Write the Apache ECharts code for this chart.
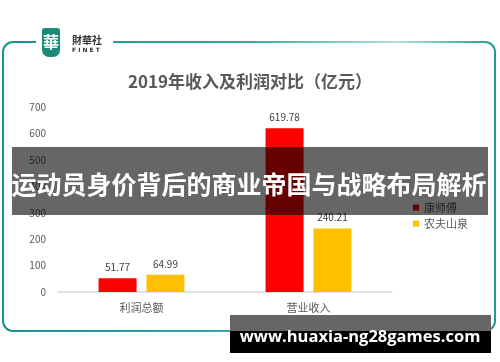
<!DOCTYPE html>
<html>
<head>
<meta charset="utf-8">
<script src="https://cdn.jsdelivr.net/npm/echarts@6/dist/echarts.min.js"></script>
<style>
  html, body { margin: 0; padding: 0; background: #fff; }
  #chart { width: 500px; height: 362px; }
</style>
</head>
<body>
<div id="chart"></div>
<script>
// 数据
const categories = ['利润总额', '营业收入'];
const seriesNames = ['康师傅', '农夫山泉'];
const kangValues = [51.77, 619.78];
const nongfuValues = [64.99, 240.21];
const yTicks = { min: 0, max: 700, interval: 100 };

const font = '"Noto Sans CJK SC", "Noto Sans", sans-serif';

const chart = echarts.init(document.getElementById('chart'));

const option = {
  backgroundColor: '#fff',
  animation: false,
  title: {
    text: '2019年收入及利润对比（亿元）',
    left: 245,
    top: 68,
    textAlign: 'center',
    textStyle: { fontFamily: font, fontSize: 17, fontWeight: 'bold', color: '#595959' }
  },
  legend: {
    data: seriesNames,
    orient: 'vertical',
    left: 408,
    top: 197,
    itemWidth: 6,
    itemHeight: 6,
    itemGap: 5,
    icon: 'rect',
    textStyle: { fontFamily: font, fontSize: 11, color: '#595959' }
  },
  grid: { left: 58, right: 108, top: 107, bottom: 70 },
  xAxis: {
    type: 'category',
    data: categories,
    axisLine: { lineStyle: { color: '#d9d9d9', width: 1.5 } },
    axisTick: { show: false },
    axisLabel: { fontFamily: font, fontSize: 11, color: '#595959', margin: 10 }
  },
  yAxis: {
    type: 'value',
    min: yTicks.min,
    max: yTicks.max,
    interval: yTicks.interval,
    splitLine: { show: false },
    axisLine: { show: false },
    axisTick: { show: false },
    axisLabel: { fontFamily: font, fontSize: 10, color: '#595959', margin: 12 }
  },
  series: [
    {
      name: seriesNames[0],
      type: 'bar',
      data: kangValues,
      barWidth: 38,
      barGap: '26%',
      itemStyle: { color: '#ff0000' },
      label: { show: true, position: 'top', distance: 6, fontFamily: font, fontSize: 10, color: '#404040' }
    },
    {
      name: seriesNames[1],
      type: 'bar',
      data: nongfuValues,
      barWidth: 38,
      itemStyle: { color: '#ffc000' },
      label: { show: true, position: 'top', distance: 6, fontFamily: font, fontSize: 10, color: '#404040' }
    }
  ],
  graphic: [
    // 外框
    {
      type: 'rect',
      z: 1,
      shape: { x: 3, y: 42, width: 492, height: 289, r: 10 },
      style: {
        fill: 'none',
        lineWidth: 2,
        stroke: new echarts.graphic.LinearGradient(0, 0, 1, 0, [
          { offset: 0, color: '#15948b' },
          { offset: 0.5, color: '#3aa9a2' },
          { offset: 0.8, color: '#b3dfdc' },
          { offset: 1, color: '#1c9a92' }
        ])
      }
    },
    // logo 区域遮住边框
    { type: 'rect', z: 2, shape: { x: 36, y: 36, width: 77, height: 12 }, style: { fill: '#fff' } },
    { type: 'rect', z: 3, shape: { x: 42, y: 28, width: 18, height: 29, r: [3, 3, 7, 7] }, style: { fill: '#1b8a78' } },
    {
      type: 'text', z: 4, x: 51, y: 42,
      style: { text: '華', fill: '#fff', font: 'bold 16px "Noto Sans CJK TC", serif', align: 'center', verticalAlign: 'middle' }
    },
    {
      type: 'text', z: 4, x: 72, y: 40,
      style: { text: '財華社', fill: '#333', font: 'bold 10px "Noto Sans CJK TC", sans-serif', verticalAlign: 'middle' }
    },
    {
      type: 'text', z: 4, x: 72, y: 50,
      style: { text: 'F I N E T', fill: '#333', font: 'bold 6px "DejaVu Sans", sans-serif', verticalAlign: 'middle' }
    },
    // 横幅
    { type: 'rect', z: 100, shape: { x: 12, y: 147, width: 476, height: 68 }, style: { fill: 'rgba(0,0,0,0.6)' } },
    {
      type: 'text', z: 101, x: 249, y: 184,
      style: { text: '运动员身价背后的商业帝国与战略布局解析', fill: '#fff', font: 'bold 25px "Noto Sans CJK SC", sans-serif', align: 'center', verticalAlign: 'middle' }
    },
    // 水印
    { type: 'rect', z: 100, shape: { x: 230, y: 315, width: 261, height: 16 }, style: { fill: '#666' } },
    { type: 'rect', z: 100, shape: { x: 230, y: 331, width: 261, height: 22 }, style: { fill: '#000' } },
    {
      type: 'text', z: 101, x: 360, y: 337,
      style: { text: 'www.huaxia-ng28games.com', fill: '#fff', font: 'bold 16.5px "Open Sans", "DejaVu Sans", sans-serif', align: 'center', verticalAlign: 'middle' }
    }
  ]
};

chart.setOption(option);
</script>
</body>
</html>
